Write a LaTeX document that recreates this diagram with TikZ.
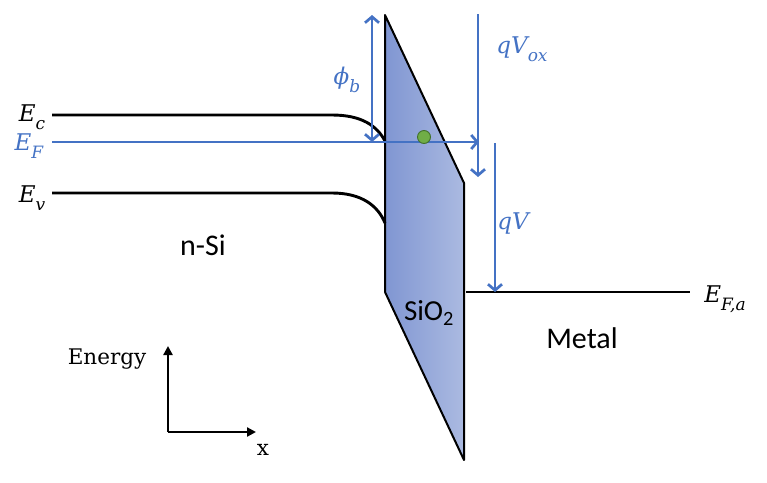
\documentclass[tikz,border=0pt]{standalone}
\usepackage{fontspec}
\newfontfamily\calib{Carlito}
\newfontfamily\mfont{DejaVu Serif}
\usetikzlibrary{arrows.meta}
\definecolor{bl}{HTML}{4472C4}
\definecolor{oxl}{HTML}{8096D2}
\definecolor{oxr}{HTML}{ABBAE1}
\definecolor{gr}{HTML}{70AD47}
\definecolor{dgr}{HTML}{41702A}
\newcommand\lsub[1]{\raisebox{-0.36em}{\fontsize{17}{17}\selectfont #1}}
\tikzset{
  band/.style={line width=2.9pt, black},
  bluearrow/.style={line width=2.7pt, bl, -{Straight Barb[length=6pt,width=14pt,line width=2.7pt]}},
  bluedouble/.style={line width=2.7pt, bl, {Straight Barb[length=6pt,width=14pt,line width=2.7pt]}-{Straight Barb[length=6pt,width=14pt,line width=2.7pt]}},
  axisarrow/.style={line width=2.6pt, black, -{Triangle[length=9pt,width=9pt]}},
  mathlbl/.style={font=\mfont\fontsize{23}{26}\selectfont\itshape, inner sep=0pt},
  sanslbl/.style={font=\calib\fontsize{30}{34}\selectfont, inner sep=0pt},
  seriflbl/.style={font=\mfont\fontsize{21.5}{26}\selectfont, inner sep=0pt},
}
\begin{document}
\begin{tikzpicture}[x=1pt,y=-1pt]
\useasboundingbox (0,0) rectangle (767,482);
% oxide
\path[left color=oxl, right color=oxr, draw=black, line width=2pt, line join=round]
  (385,15) -- (464,183) -- (464,460) -- (385,292) -- cycle;
% coordinates
\coordinate (ecL) at (52,115);
\coordinate (ecR) at (332,115);
\coordinate (ecE) at (385,141);
\coordinate (evL) at (52,193);
\coordinate (evR) at (332,193);
\coordinate (evE) at (385,223);
\coordinate (efL) at (52,142);
\coordinate (efR) at (479,142);
\coordinate (phT) at (372,15);
\coordinate (phB) at (372,142);
\coordinate (voT) at (478,14);
\coordinate (voB) at (478,177);
\coordinate (qvT) at (495,143);
\coordinate (qvB) at (495,292);
\coordinate (mL) at (466,292);
\coordinate (mR) at (690,292);
\coordinate (ax0) at (168,432);
\coordinate (axY) at (168,346);
\coordinate (axX) at (256,432);
% bands
\draw[band] (ecL) -- (ecR) .. controls (362,115) and (377,126) .. (ecE);
\draw[band] (evL) -- (evR) .. controls (362,193) and (378,206) .. (evE);
\draw[band] (mL) -- (mR);
% blue arrows
\draw[bluearrow] (efL) -- (efR);
\draw[bluedouble] (phT) -- (phB);
\draw[bluearrow] (voT) -- (voB);
\draw[bluearrow] (qvT) -- (qvB);
% electron
\node[circle, fill=gr, draw=dgr, line width=0.9pt, minimum size=13pt, inner sep=0pt] (dot) at (424,137) {};
% axes
\draw[axisarrow] (ax0) -- (axY);
\draw[axisarrow] (ax0) -- (axX);
% labels
\node[mathlbl] (lEc) at (32,117) {E\lsub{c}};
\node[mathlbl, text=bl] (lEf) at (29,146) {E\lsub{F}};
\node[mathlbl] (lEv) at (32,198) {E\lsub{v}};
\node[mathlbl, text=bl] (lphi) at (347,80) {ϕ\lsub{b}};
\node[mathlbl, text=bl] (lvox) at (522,49) {qV\lsub{ox}};
\node[mathlbl, text=bl] (lqv) at (513,224) {qV};
\node[mathlbl] (lEfa) at (725,299) {E\lsub{F,a}};
\node[sanslbl] (nsi) at (203,245) {n-Si};
\node[sanslbl, font=\calib\fontsize{29}{32}\selectfont] (sio) at (429,313) {SiO\textsubscript{2}};
\node[sanslbl] (metal) at (582,338) {Metal};
\node[seriflbl] (energy) at (107,359) {Energy};
\node[seriflbl] (xlbl) at (263,450) {x};
\end{tikzpicture}
\end{document}
